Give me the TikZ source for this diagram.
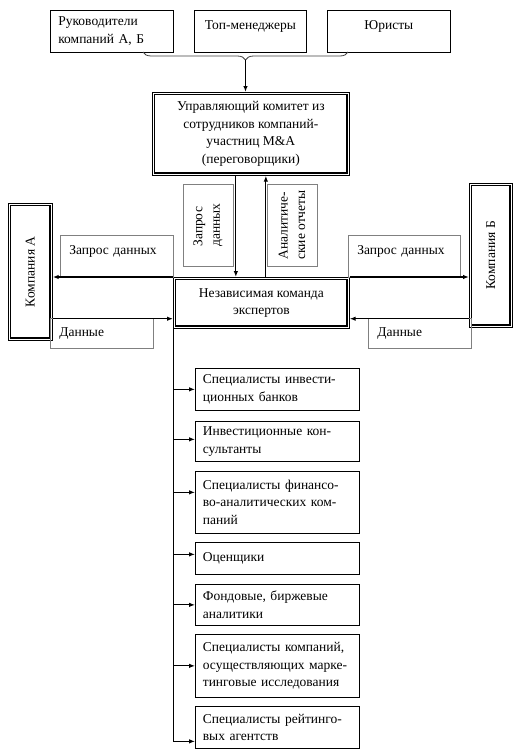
\documentclass[tikz,border=0pt]{standalone}
\usepackage{fontspec}
\setmainfont{Liberation Serif}
\usepackage{graphicx}
\usetikzlibrary{arrows.meta,decorations.pathreplacing}
\tikzset{
    box/.style={draw, line width=0.7pt, anchor=north west, inner xsep=8pt, inner ysep=0pt},
    item/.style={box, text width=149pt, inner xsep=7.5pt, align=left},
    lbl/.style={draw=black!50, line width=0.7pt, anchor=north west, inner xsep=9pt, inner ysep=0pt, align=left},
    topline/.style={text height=19pt, text depth=23pt},
    every node/.style={font=\fontsize{13.5pt}{17.5pt}\selectfont}
}
\begin{document}
\begin{tikzpicture}[x=1pt, y=-1pt, >={Latex[length=6pt,width=4.5pt]}]
            %\draw[help lines] (0, 0) grid[step=50] (521, 753);
            \useasboundingbox (0, 0) rectangle (521, 753);
            \node[box, minimum height=42, text width=107pt, align=left] (ruk) at (50, 10) {Руководители\\компаний А, Б};
            \node[box, topline, minimum width=112] (top) at (194, 10) {Топ-менеджеры};
            \node[box, topline, minimum width=123] (jur) at (327, 10) {Юристы};
            \coordinate (bl) at (143, 52);
            \coordinate (br) at (348, 52);
            \coordinate (bt) at (245.5, 60);
            \draw[black!75, line width=0.8pt, decorate, decoration={brace, mirror, amplitude=8pt}] (bl) -- (br);
            \node[box, minimum width=197, minimum height=83, align=center] (com) at (152, 92) {Управляющий комитет из\\сотрудников компаний-\\участниц M\&A\\(переговорщики)};
            \node[box, minimum width=176, minimum height=51, align=center] (exp) at (173, 277) {Независимая команда\\экспертов};
            \node[box, minimum width=44, minimum height=137] (ca) at (8, 203) {\rotatebox{90}{Компания А}};
            \node[box, minimum width=43, minimum height=144] (cb) at (469, 183) {\rotatebox{90}{Компания Б}};
            \foreach \n in {com, exp, ca, cb}
                \draw[line width=1.5pt] ([xshift=2.5pt, yshift=-2.5pt]\n.north west) rectangle ([xshift=-2.5pt, yshift=2.5pt]\n.south east);
            % labels on the arrows
            \node[lbl, anchor=center, rotate=90, minimum width=82, minimum height=50, inner sep=0pt] (mq) at (208, 225) {Запрос\\данных};
            \node[lbl, anchor=center, rotate=90, minimum width=82, minimum height=50, inner sep=0pt] (ma) at (292, 225) {Аналитиче-\\ские отчеты};
            \node[lbl, topline, text width=95pt] (lq) at (60, 235) {Запрос данных};
            \node[lbl, minimum height=30, text width=85pt] (ld) at (50, 318) {Данные};
            \node[lbl, topline, text width=94pt] (rq) at (348, 235) {Запрос данных};
            \node[lbl, minimum height=30, text width=85pt] (rd) at (368, 318) {Данные};
            \begin{scope}[line width=1.2pt]
                \draw[->] (bt) -- (bt |- com.north);
                \draw[->] ([xshift=-15pt]com.south) -- ([xshift=-15pt]com.south |- exp.north);
                \draw[<-] ([xshift=15pt]com.south) -- ([xshift=15pt]com.south |- exp.north);
                \draw[->] (exp.north west) -- (exp.north west -| ca.east);
                \draw[->] ([yshift=10pt]exp.south west -| ca.east) -- ([yshift=10pt]exp.south west);
                \draw[->] (exp.north east) -- (exp.north east -| cb.west);
                \draw[->] ([yshift=10pt]exp.south east -| cb.west) -- ([yshift=10pt]exp.south east);
            \end{scope}
            % experts
            \node[item, minimum height=42] (b1) at (195, 368) {Специалисты инвести-\\ционных банков};
            \node[item, minimum height=40] (b2) at (195, 421) {Инвестиционные кон-\\сультанты};
            \node[item, minimum height=62] (b3) at (195, 471) {Специалисты финансо-\\во-аналитических ком-\\паний};
            \node[item, minimum height=32] (b4) at (195, 542) {Оценщики};
            \node[item, minimum height=41] (b5) at (195, 584) {Фондовые, биржевые\\аналитики};
            \node[item, minimum height=63] (b6) at (195, 634) {Специалисты компаний,\\осуществляющих марке-\\тинговые исследования};
            \node[item, minimum height=42] (b7) at (195, 706) {Специалисты рейтинго-\\вых агентств};
            \draw[line width=1pt] (exp.south west) -- ([yshift=-14pt]b7.west -| exp.west);
            \foreach \b/\d in {b1/0, b2/2, b3/10, b4/4, b5/0, b6/0, b7/-14}
                \draw[->, line width=1pt] ([yshift=\d pt]\b.west -| exp.west) -- ([yshift=\d pt]\b.west);
        \end{tikzpicture}
\end{document}
